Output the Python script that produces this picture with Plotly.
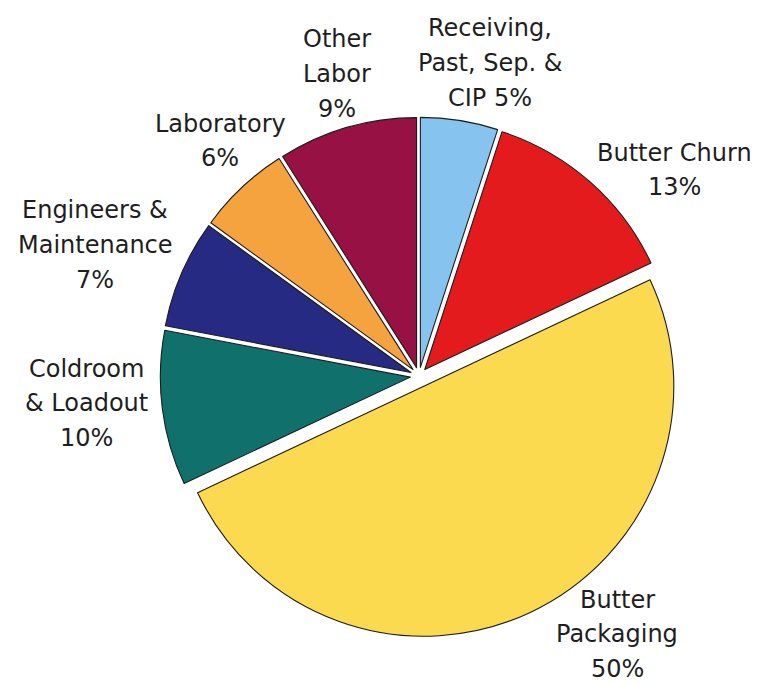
import plotly.graph_objects as go

# Share of labor cost by area (percent)
categories = [
    "Receiving,<br>Past, Sep. &<br>CIP",
    "Butter Churn",
    "Butter<br>Packaging",
    "Coldroom<br>& Loadout",
    "Engineers &<br>Maintenance",
    "Laboratory",
    "Other<br>Labor",
]
shares = [5, 13, 50, 10, 7, 6, 9]
# percentage goes on the last label line (True) or on a line of its own (False)
pct_same_line = [True, False, False, False, False, False, False]

colors = ["#86c4ef", "#e31b1d", "#fcda4f", "#0f706c", "#272a82", "#f5a33f", "#981145"]
pulls = [0.035, 0.035, 0.045, 0.035, 0.035, 0.035, 0.035]

W, H = 761, 684
# label block centres in pixels (x, y of the middle line) and line pitch
label_centers = [(490, 63), (674, 170), (617, 634), (86, 403), (95, 245), (220, 141), (337, 74)]
line_pitch = 34.5

fig = go.Figure(
    go.Pie(
        labels=[c.replace("<br>", " ") for c in categories],
        values=shares,
        textinfo="none",
        sort=False,
        direction="clockwise",
        rotation=0,
        pull=pulls,
        marker=dict(colors=colors, line=dict(color="#1c1c1c", width=1.1)),
        automargin=False,
        domain=dict(x=[0.2073, 0.8939], y=[0.0683, 0.8322]),
        showlegend=False,
        hoverinfo="label+percent",
    )
)

annotations = []
for cat, val, same, (cx, cy) in zip(categories, shares, pct_same_line, label_centers):
    lines = cat.split("<br>")
    if same:
        lines[-1] = f"{lines[-1]} {val}%"
    else:
        lines.append(f"{val}%")
    n = len(lines)
    for i, line in enumerate(lines):
        y_px = cy + (i - (n - 1) / 2) * line_pitch
        annotations.append(
            dict(
                text=line,
                x=cx / W,
                y=1 - y_px / H,
                xref="paper",
                yref="paper",
                xanchor="center",
                yanchor="middle",
                showarrow=False,
                font=dict(family="DejaVu Sans", size=24, color="#1e1e1e"),
            )
        )

fig.update_layout(
    width=W,
    height=H,
    margin=dict(l=0, r=0, t=0, b=0),
    paper_bgcolor="white",
    plot_bgcolor="white",
    showlegend=False,
    annotations=annotations,
)

fig.write_html("out.html")
